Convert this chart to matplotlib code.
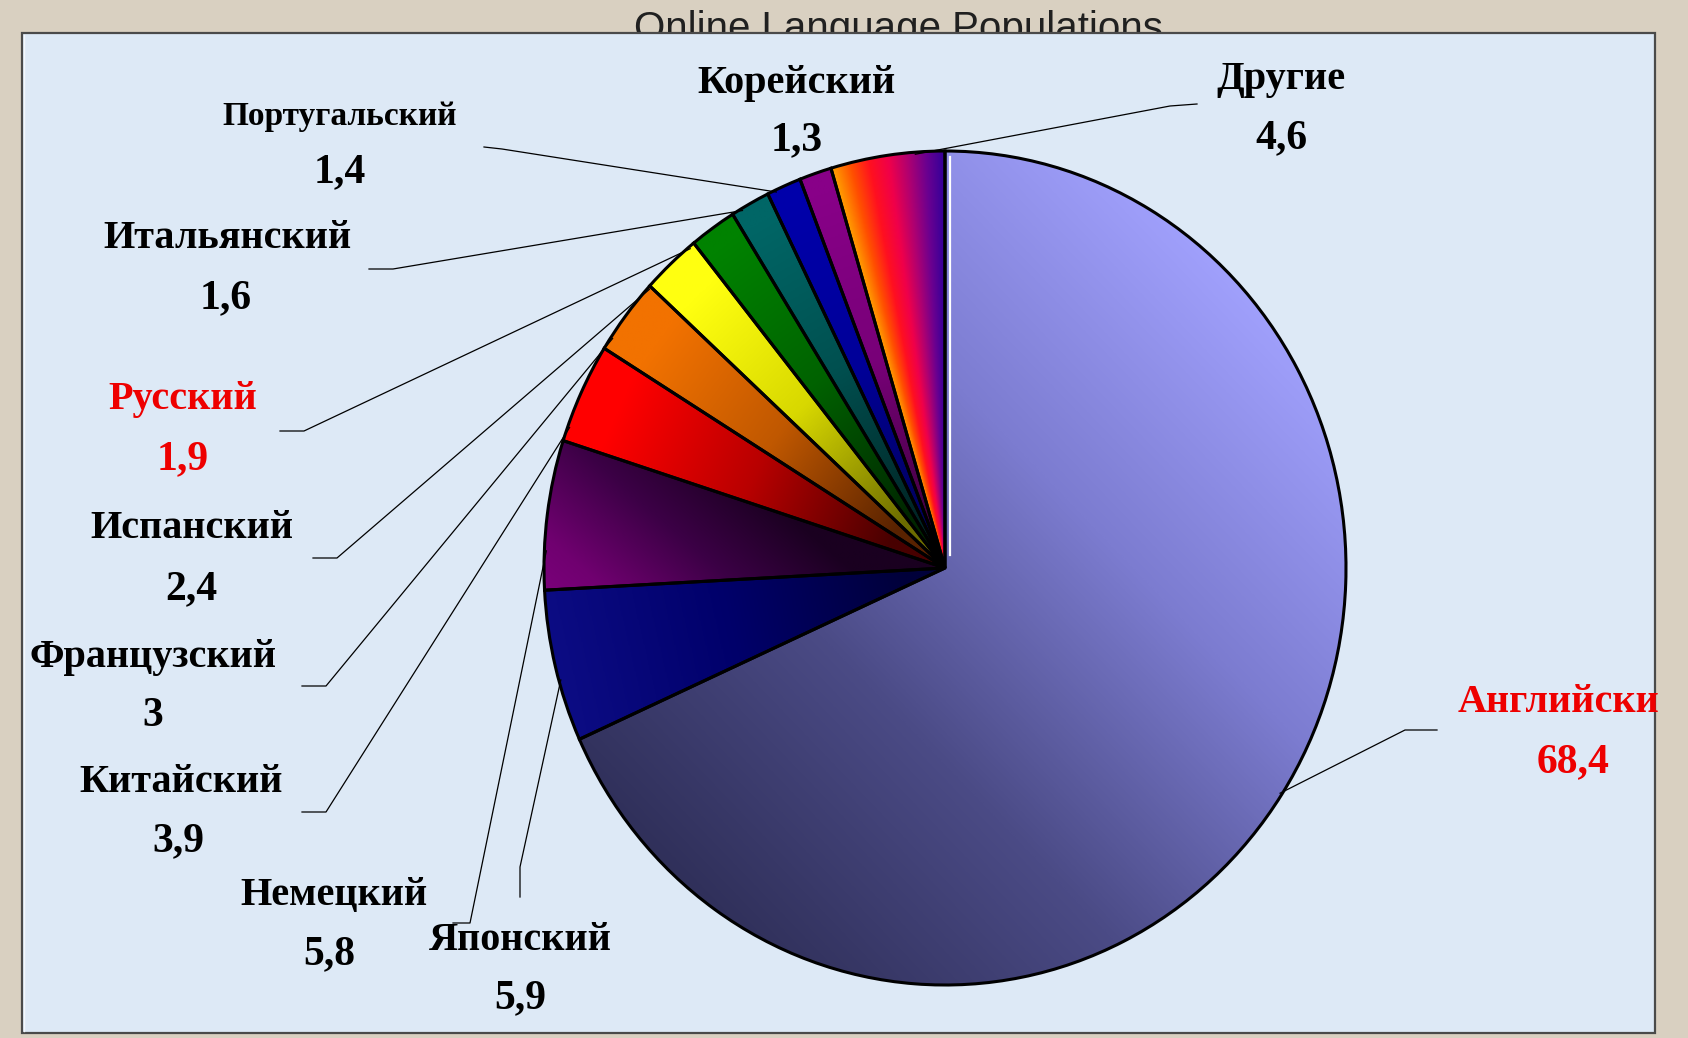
import numpy as np
import matplotlib
matplotlib.use('Agg')
import matplotlib.pyplot as plt
from matplotlib.colors import LinearSegmentedColormap
from matplotlib.patches import Rectangle

# ---------------- data ----------------
title = 'Online Language Populations'
languages = ['Английски', 'Японский', 'Немецкий', 'Китайский', 'Французский',
             'Испанский', 'Русский', 'Итальянский', 'Португальский',
             'Корейский', 'Другие']
values = [68.4, 5.9, 5.8, 3.9, 3.0, 2.4, 1.9, 1.6, 1.4, 1.3, 4.6]
value_labels = ['68,4', '5,9', '5,8', '3,9', '3', '2,4', '1,9', '1,6',
                '1,4', '1,3', '4,6']
highlight = ['Английски', 'Русский']

# ---------------- layout (pixels) ----------------
W, H = 1688, 1038
cx, cy, rx, ry = 945, 568, 401, 417
lim = 1.03

# label centre (name), value centre, leader start, leader elbow
name_pos = [(1559, 702), (520, 940), (334, 895), (181, 782), (153, 658),
            (192, 529), (183, 400), (228, 239), (340, 116), (797, 83),
            (1281, 80)]
val_pos = [(1573, 762), (520, 998), (329, 954), (178, 841), (153, 716),
           (191, 589), (183, 459), (226, 298), (340, 172), (797, 140),
           (1281, 138)]
lead_start = [(1437, 730), (520, 897), (453, 923), (302, 812), (302, 686),
              (313, 558), (280, 431), (369, 269), (484, 147), None,
              (1197, 104)]
lead_elbow = [(1405, 730), (520, 867), (470, 923), (326, 812), (326, 686),
              (337, 558), (304, 431), (393, 269), (502, 149), None,
              (1170, 106)]
# angular shift (deg) of the leader tip from the slice middle
lead_shift = [0, 2, 5, 5, 3.6, 4.7, 4.3, 1.4, 1.3, 0, -4]
name_size = [29, 29, 29, 29, 29, 29, 29, 29, 24, 29, 29]
value_size = 30

grad_specs = [
    ('linear', 45, -1.0, 1.0, ['#30305a', '#4b4b86', '#7c7cd0', '#a0a0fc']),
    ('mid', None, 0.1, 1.0, ['#00003a', '#00006a', '#0c0c84']),
    ('linear', 230, 0.15, 0.8, ['#1a0020', '#3c0046', '#700070', '#860086']),
    ('mid', None, 0.15, 0.9, ['#480000', '#b80000', '#ff0000']),
    ('mid', None, 0.15, 0.9, ['#582200', '#c05800', '#f27200']),
    ('mid', None, 0.15, 0.9, ['#6c6c00', '#d8d800', '#ffff10']),
    ('mid', None, 0.15, 0.95, ['#002600', '#006200', '#008200']),
    ('mid', None, 0.15, 0.95, ['#002626', '#005050', '#006666']),
    ('mid', None, 0.1, 0.95, ['#000058', '#000098', '#0000aa']),
    ('mid', None, 0.1, 0.95, ['#3e003e', '#780078', '#880088']),
    ('angle', None, 0, 1, ['#30009a', '#6a0090', '#b00070', '#f0004a',
                           '#ff1020', '#ff5000', '#ffa000']),
]

fig = plt.figure(figsize=(W / 100, H / 100), dpi=100)
fig.patch.set_facecolor('#d9d0c1')

# background axes (pixel coordinates)
bg = fig.add_axes([0, 0, 1, 1], zorder=0)
bg.set_xlim(0, W)
bg.set_ylim(H, 0)
bg.axis('off')
bg.text(898, 10, title, ha='center', va='top', fontsize=29,
        family=['Liberation Sans', 'DejaVu Sans'], color='#202020', zorder=1)
bg.add_patch(Rectangle((22, 33), 1633, 1000, facecolor='#dde9f6',
                       edgecolor='#4a4a4a', linewidth=1.6, zorder=2))
bg.plot([24, 24], [35, 1031], color='#f4f8fc', lw=1, zorder=3)

# pie axes (ellipse via non-equal aspect)
pax = fig.add_axes([(cx - rx * lim) / W, (H - cy - ry * lim) / H,
                    2 * rx * lim / W, 2 * ry * lim / H], zorder=1)
wedges, _ = pax.pie(values, startangle=90, counterclock=False, radius=1,
                    center=(0, 0), colors=['w'] * len(values),
                    wedgeprops=dict(edgecolor='black', linewidth=2.2))
pax.set_aspect('auto')
pax.set_xlim(-lim, lim)
pax.set_ylim(-lim, lim)
pax.axis('off')

n = 700
g = np.linspace(-lim, lim, n)
X, Y = np.meshgrid(g, g)
ANG = np.degrees(np.arctan2(Y, X)) % 360
for w, (mode, phi, lo, hi, cols) in zip(wedges, grad_specs):
    w.set_facecolor('none')
    w.set_zorder(3)
    if mode == 'linear':
        t = X * np.cos(np.radians(phi)) + Y * np.sin(np.radians(phi))
    elif mode == 'mid':
        m = np.radians((w.theta1 + w.theta2) / 2)
        t = X * np.cos(m) + Y * np.sin(m)
    else:
        a1, a2 = w.theta1 % 360, w.theta2 % 360
        t = (ANG - a1) / (a2 - a1)
        lo, hi = 0, 1
    t = np.clip((t - lo) / (hi - lo), 0, 1)
    cmap = LinearSegmentedColormap.from_list('g', cols)
    im = pax.imshow(t, extent=(-lim, lim, -lim, lim), origin='lower',
                    cmap=cmap, vmin=0, vmax=1, aspect='auto',
                    interpolation='bilinear', zorder=1)
    im.set_clip_path(w)
pax.set_xlim(-lim, lim)
pax.set_ylim(-lim, lim)
# thin white seam at 12 o'clock
pax.plot([0.012, 0.012], [0.03, 0.985], color='white', lw=1.6, zorder=4)

# foreground axes for labels and leader lines
fg = fig.add_axes([0, 0, 1, 1], zorder=2)
fg.set_xlim(0, W)
fg.set_ylim(H, 0)
fg.axis('off')
fg.patch.set_alpha(0)

serif = ['Liberation Serif', 'DejaVu Serif']
for i, w in enumerate(wedges):
    col = '#ee0000' if languages[i] in highlight else 'black'
    fg.text(*name_pos[i], languages[i], ha='center', va='center',
            fontsize=name_size[i], fontweight='bold', family=serif, color=col)
    fg.text(*val_pos[i], value_labels[i], ha='center', va='center',
            fontsize=value_size, fontweight='bold', family=serif, color=col)
    if lead_start[i] is not None:
        m = np.radians((w.theta1 + w.theta2) / 2 + lead_shift[i])
        p = pax.transData.transform((np.cos(m) * 0.995, np.sin(m) * 0.995))
        ex, ey = fg.transData.inverted().transform(p)
        xs = [lead_start[i][0], lead_elbow[i][0], ex]
        ys = [lead_start[i][1], lead_elbow[i][1], ey]
        fg.plot(xs, ys, color='black', lw=0.9)

fig.savefig('out.png', dpi=100)
